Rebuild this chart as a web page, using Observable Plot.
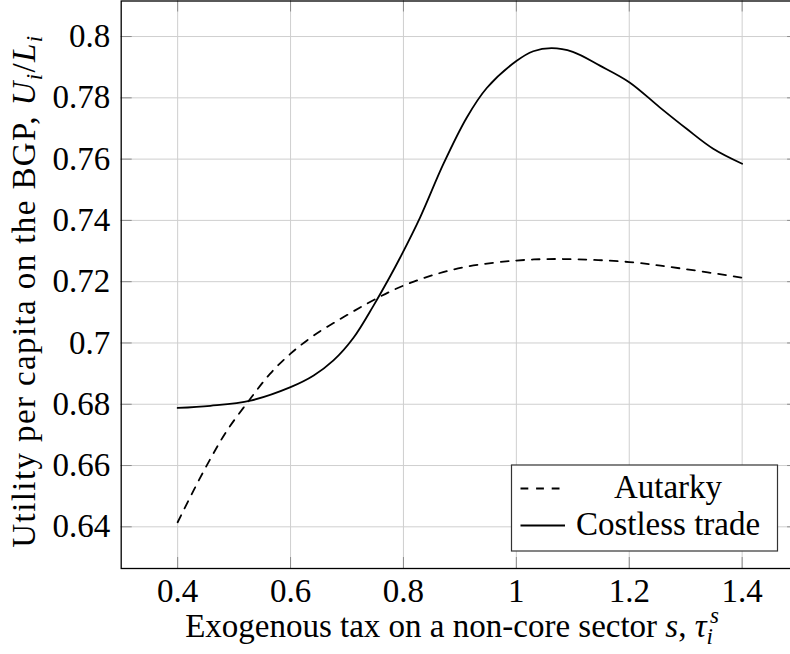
<!DOCTYPE html>
<html><head><meta charset="utf-8">
<script src="https://cdn.jsdelivr.net/npm/d3@7"></script>
<script src="https://cdn.jsdelivr.net/npm/@observablehq/plot@0.6"></script>
<style>
body{margin:0;overflow:hidden;background:#fff}
#chart{position:relative;width:790px;height:654px;overflow:hidden}
#chart svg{overflow:hidden}
#chart svg text{font-family:"Liberation Serif","Times New Roman",serif !important}
</style></head><body><div id="chart"></div>
<script>
// Exogenous tax values (x) and utility per capita (y)
const tradeTau = [0.40, 0.458, 0.529, 0.60, 0.641, 0.676, 0.7115, 0.747, 0.776, 0.794, 0.8296, 0.871, 0.912, 0.9476, 1.0, 1.03, 1.0627, 1.1, 1.148, 1.2, 1.254, 1.3016, 1.3487, 1.4];
const tradeU   = [0.6788, 0.6795, 0.6812, 0.6856, 0.6894, 0.6943, 0.7017, 0.7122, 0.7216, 0.7278, 0.7410, 0.7585, 0.7735, 0.7832, 0.7920, 0.7952, 0.7962, 0.7950, 0.7905, 0.7851, 0.7769, 0.7699, 0.7634, 0.7585];
const autarkyTau = [0.40, 0.4283, 0.458, 0.4874, 0.5287, 0.564, 0.60, 0.641, 0.6889, 0.7352, 0.7765, 0.812, 0.853, 0.912, 1.0, 1.0785, 1.2, 1.296, 1.4];
const autarkyU   = [0.6415, 0.6519, 0.6622, 0.6714, 0.6818, 0.6900, 0.6965, 0.7024, 0.7079, 0.7128, 0.7168, 0.7196, 0.7222, 0.7249, 0.7269, 0.7274, 0.7264, 0.7242, 0.7213];
const seriesNames = ["Autarky", "Costless trade"];
const xTicks = [0.4, 0.6, 0.8, 1.0, 1.2, 1.4];
const xTickLabels = ["0.4", "0.6", "0.8", "1", "1.2", "1.4"];
const yTicks = [0.64, 0.66, 0.68, 0.70, 0.72, 0.74, 0.76, 0.78, 0.80];
const yTickLabels = ["0.64", "0.66", "0.68", "0.7", "0.72", "0.74", "0.76", "0.78", "0.8"];

const trade = tradeTau.map((t, i) => ({tau: t, u: tradeU[i]}));
const autarky = autarkyTau.map((t, i) => ({tau: t, u: autarkyU[i]}));

const W = 790, H = 654;
const FL = 120.7, FR = 798.1, FT = 0.5, FB = 568;
const TICK = 11;
const FONT = '"Liberation Serif","Times New Roman",serif';

const plot = Plot.plot({
  width: W, height: H,
  marginLeft: FL, marginRight: W - FR, marginTop: FT, marginBottom: H - FB,
  x: {domain: [0.3, 1.5], range: [FL, FR]},
  y: {domain: [0.6264, 0.8116], range: [FB, FT]},
  style: {fontFamily: FONT, fontSize: "33px", color: "#000", background: "#fff"},
  marks: [
    Plot.ruleX(xTicks, {stroke: "#cfcfcf", strokeWidth: 1}),
    Plot.ruleY(yTicks, {stroke: "#cfcfcf", strokeWidth: 1}),
    Plot.ruleX(xTicks, {stroke: "#8c8c8c", strokeWidth: 1, insetTop: FB - FT - TICK}),
    Plot.ruleX(xTicks, {stroke: "#8c8c8c", strokeWidth: 1, insetBottom: FB - FT - TICK}),
    Plot.ruleY(yTicks, {stroke: "#8c8c8c", strokeWidth: 1, insetRight: FR - FL - TICK}),
    Plot.ruleY(yTicks, {stroke: "#8c8c8c", strokeWidth: 1, insetLeft: FR - FL - TICK}),
    Plot.axisX({ticks: xTicks, tickSize: 0, tickPadding: 10, label: null,
      tickFormat: d => xTickLabels[xTicks.indexOf(d)], fontSize: 33}),
    Plot.axisY({ticks: yTicks, tickSize: 0, tickPadding: 11, label: null,
      tickFormat: d => yTickLabels[yTicks.indexOf(d)], fontSize: 33}),
    Plot.line(autarky, {x: "tau", y: "u", stroke: "#000", strokeWidth: 1.8, strokeDasharray: "7.8,7.8", curve: "catmull-rom"}),
    Plot.line(trade, {x: "tau", y: "u", stroke: "#000", strokeWidth: 1.8, curve: "catmull-rom"}),
    Plot.frame({stroke: "#000", strokeWidth: 1.3})
  ]
});
document.getElementById("chart").appendChild(plot);

const svg = d3.select(plot);
// x-axis title
const xt = svg.append("text").attr("x", 452).attr("y", 637)
  .attr("text-anchor", "middle").attr("font-size", 33).attr("fill", "#000");
xt.append("tspan").text("Exogenous tax on a non-core sector ");
xt.append("tspan").attr("font-style", "italic").text("s");
xt.append("tspan").text(", ");
xt.append("tspan").attr("font-style", "italic").text("τ");
xt.append("tspan").attr("font-style", "italic").attr("font-size", 23).attr("dy", 7).text("i");
xt.append("tspan").attr("font-style", "italic").attr("font-size", 23).attr("dx", -3).attr("dy", -21).text("s");

// y-axis title
const yt = svg.append("text").attr("transform", "translate(35,291) rotate(-90)")
  .attr("text-anchor", "middle").attr("font-size", 33).attr("letter-spacing", 1.4).attr("fill", "#000");
yt.append("tspan").text("Utility per capita on the BGP, ");
yt.append("tspan").attr("font-style", "italic").text("U");
yt.append("tspan").attr("font-style", "italic").attr("font-size", 23).attr("dy", 7).text("i");
yt.append("tspan").attr("dy", -7).text("/");
yt.append("tspan").attr("font-style", "italic").text("L");
yt.append("tspan").attr("font-style", "italic").attr("font-size", 23).attr("dy", 7).text("i");

// legend
const lg = svg.append("g");
lg.append("rect").attr("x", 511.5).attr("y", 465).attr("width", 266).attr("height", 86)
  .attr("fill", "#fff").attr("stroke", "#333").attr("stroke-width", 1.2);
lg.append("line").attr("x1", 520.5).attr("x2", 565).attr("y1", 488.5).attr("y2", 488.5)
  .attr("stroke", "#000").attr("stroke-width", 1.8).attr("stroke-dasharray", "7.8,7.8");
lg.append("line").attr("x1", 520.5).attr("x2", 565).attr("y1", 525.5).attr("y2", 525.5)
  .attr("stroke", "#000").attr("stroke-width", 1.8);
lg.append("text").attr("x", 668).attr("y", 498).attr("text-anchor", "middle")
  .attr("font-size", 33).attr("fill", "#000").text(seriesNames[0]);
lg.append("text").attr("x", 668).attr("y", 535).attr("text-anchor", "middle")
  .attr("font-size", 33).attr("fill", "#000").text(seriesNames[1]);
</script></body></html>
